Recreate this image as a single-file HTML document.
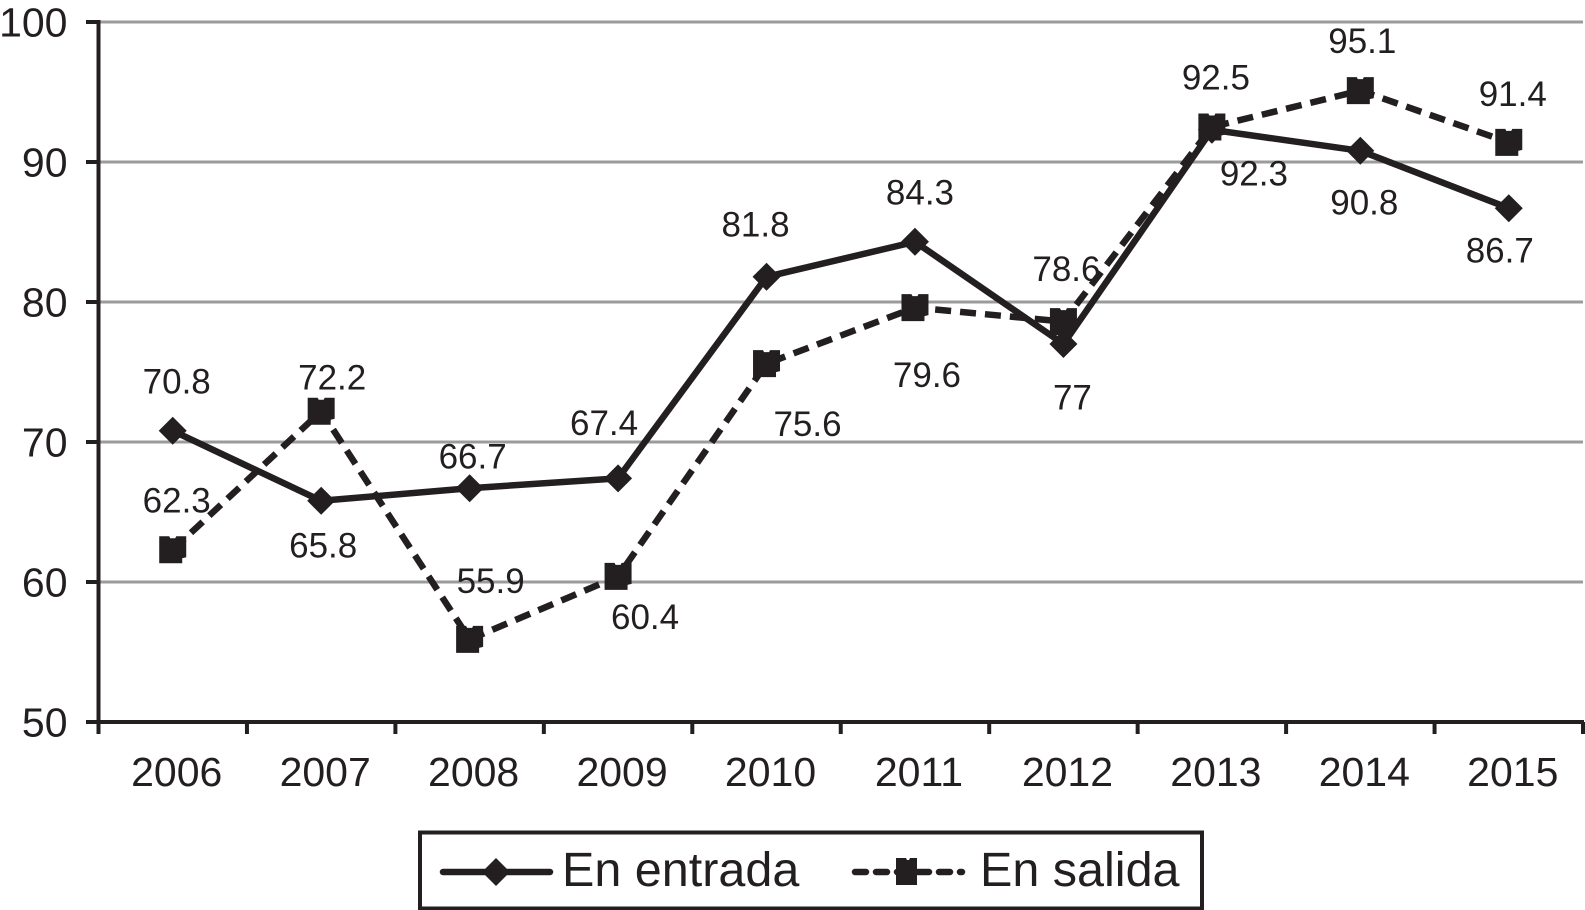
<!DOCTYPE html>
<html lang="es">
<head>
<meta charset="utf-8">
<title>En entrada / En salida</title>
<style>
html,body{margin:0;padding:0;background:#fff;width:1585px;height:910px;overflow:hidden}
svg{display:block}
text{font-family:"Liberation Sans",Arial,sans-serif;fill:#231f20}
</style>
</head>
<body>
<svg id="chart" xmlns="http://www.w3.org/2000/svg" width="1585" height="910" viewBox="0 0 1585 910">
  <g id="grid"></g>
  <g id="axes"></g>
  <g id="series"></g>
  <g id="labels"></g>
  <g>
    <rect x="420" y="832.5" width="782" height="76" fill="#fff" stroke="#231f20" stroke-width="4"/>
    <g>
      <line x1="443" y1="872" x2="550" y2="872" stroke="#231f20" stroke-width="6.5" stroke-linecap="round"/>
      <polygon points="496,858 510,872 496,886 482,872" fill="#231f20"/>
      <text x="562" y="886" font-size="48.5">En entrada</text>
    </g>
    <g>
      <line x1="855" y1="872" x2="962" y2="872" stroke="#231f20" stroke-width="6.5" stroke-linecap="round" stroke-dasharray="11 10"/>
      <path d="M896,858h10l1,2h2l1,-2h7v27h-21z" fill="#231f20"/>
      <text x="980" y="886" font-size="48.5">En salida</text>
    </g>
  </g>
</svg>
<script>
const categories = ["2006","2007","2008","2009","2010","2011","2012","2013","2014","2015"];
const entradaValues = [70.8,65.8,66.7,67.4,81.8,84.3,77,92.3,90.8,86.7];
const salidaValues = [62.3,72.2,55.9,60.4,75.6,79.6,78.6,92.5,95.1,91.4];
const yTickLabels = [50,60,70,80,90,100];

const INK = "#231f20";
const NS = "http://www.w3.org/2000/svg";
const plot = {left:98.5, right:1583, top:22, bottom:722};
const yMin = 50, yMax = 100;
const bandW = (plot.right - plot.left) / categories.length;

function xScale(i){ return plot.left + bandW * (i + 0.5); }
function yScale(v){ return plot.bottom - (v - yMin) / (yMax - yMin) * (plot.bottom - plot.top); }
function mk(tag, parent, props){
  const el = document.createElementNS(NS, tag);
  for (const k in props) el.setAttribute(k, props[k]);
  parent.appendChild(el);
  return el;
}

/* label placement relative to each point (layout only, not data) */
const entradaLabelDx = [4,2,3,-14,-11,5,9,42,4,-9];
const entradaLabelDy = [-50,44,-32,-56,-53,-50,53,43,51,42];
const salidaLabelDx = [4,11,21,27,41,12,3,4,2,4];
const salidaLabelDy = [-50,-34,-59,40,60,67,-53,-50,-50,-49];

const gGrid = document.getElementById("grid");
const gAxes = document.getElementById("axes");
const gSeries = document.getElementById("series");
const gLabels = document.getElementById("labels");

yTickLabels.forEach(function(t){
  const y = yScale(t);
  if (t !== yMin) {
    const g = mk("line", gGrid, {x1:plot.left, x2:plot.right, y1:y, y2:y, stroke:"#9b9b9b", "stroke-width":3});
    
    
  }
  const tick = mk("line", gAxes, {x1:86, x2:plot.left, y1:y, y2:y, stroke:INK, "stroke-width":4});
  
  
  const lab = mk("text", gAxes, {x:67.5, y:y + 14.5, "text-anchor":"end", "font-size":41});
  lab.textContent = t;
  
  
});

const yAxis = mk("line", gAxes, {x1:plot.left, x2:plot.left, y1:plot.top - 2, y2:plot.bottom + 12, stroke:INK, "stroke-width":4});


const xAxis = mk("line", gAxes, {x1:plot.left, x2:plot.right + 1, y1:plot.bottom, y2:plot.bottom, stroke:INK, "stroke-width":4});



for (let i = 1; i <= categories.length; i++) {
  const x = plot.left + bandW * i;
  const t = mk("line", gAxes, {x1:x, x2:x, y1:plot.bottom, y2:plot.bottom + 12, stroke:INK, "stroke-width":4});
  
  
}
categories.forEach(function(c, i){
  const lab = mk("text", gAxes, {x:xScale(i) + 4, y:786, "text-anchor":"middle", "font-size":41});
  lab.textContent = c;
  
  
});

function linePoints(vals){
  return vals.map(function(v, i){ return xScale(i) + "," + yScale(v); }).join(" ");
}

const lineE = mk("polyline", gSeries, {points:linePoints(entradaValues), fill:"none", stroke:INK, "stroke-width":6.5, "stroke-linejoin":"round"});


const lineS = mk("polyline", gSeries, {points:linePoints(salidaValues), fill:"none", stroke:INK, "stroke-width":6.5, "stroke-dasharray":"16 9", "stroke-linejoin":"round"});



entradaValues.forEach(function(v, i){
  const x = xScale(i), y = yScale(v);
  const m = mk("polygon", gSeries, {points:[x,y-14,x+14,y,x,y+14,x-14,y].join(" "), fill:INK});
  
  
  const t = mk("text", gLabels, {x:x + entradaLabelDx[i], y:y + entradaLabelDy[i] + 12.5, "text-anchor":"middle", "font-size":35});
  t.textContent = v;
  
  
});
salidaValues.forEach(function(v, i){
  const x = xScale(i), y = yScale(v);
  const d = "M" + (x-13.5) + "," + (y-13.5) + "h10l1,2h5l1,-2h10v21l-4,1v5h-23z";
  const m = mk("path", gSeries, {d:d, fill:INK});
  
  
  const t = mk("text", gLabels, {x:x + salidaLabelDx[i], y:y + salidaLabelDy[i] + 12.5, "text-anchor":"middle", "font-size":35});
  t.textContent = v;
  
  
});
</script>
</body>
</html>
